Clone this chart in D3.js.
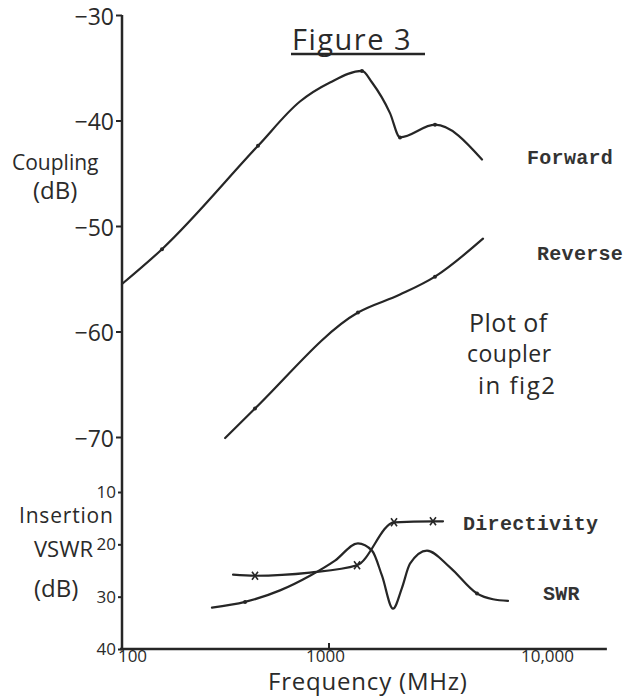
<!DOCTYPE html>
<html>
<head>
<meta charset="utf-8">
<script src="https://cdn.jsdelivr.net/npm/d3@7.9.0/dist/d3.min.js"></script>
<style>
  body { margin: 0; background: #fff; }
  svg { display: block; }
  .hand { font-family: "Open Sans", sans-serif; fill: #2a2a2a; }
  .type { font-family: "Liberation Mono", monospace; font-weight: bold; fill: #333; }
</style>
</head>
<body>
<svg width="634" height="698"></svg>
<script>
// frequency (MHz) / dB pairs
const forwardFreq = [100, 156, 454, 724, 1011, 1443, 1614, 1971, 2203, 3251, 5484];
const forwardDb   = [-55.5, -52.2, -42.4, -38.2, -36.4, -35.3, -36.4, -39.3, -41.6, -40.4, -43.7];
const forwardMarks = [156, 454, 1443, 2203, 3251];

const reverseFreq = [315, 439, 1380, 2203, 3251, 5546];
const reverseDb   = [-70.1, -67.3, -58.2, -56.5, -54.8, -51.2];
const reverseMarks = [439, 1380, 3251];

const directFreq = [344, 439, 809, 1366, 2061, 3179, 3555];
const directDb   = [25.8, 26.0, 25.4, 24.0, 15.8, 15.6, 15.6];
const directMarks = [439, 1366, 2061, 3179];

const swrFreq = [272, 393, 580, 809, 1069, 1380, 1614, 1803, 2038, 2252, 2462, 2974, 3842, 5187, 6199, 7324];
const swrDb   = [32.1, 31.0, 28.8, 26.0, 23.1, 19.8, 21.2, 26.0, 32.3, 28.3, 23.7, 21.2, 24.4, 29.4, 30.5, 30.8];
const swrMarks = [393, 5187];

const couplingTicks = [-30, -40, -50, -60, -70];
const lowerTicks = [10, 20, 30, 40];
const freqTicks = [100, 1000, 10000];
const freqTickLabels = ["100", "1000", "10,000"];

const svg = d3.select("svg");
const ink = "#262626";

const x = d3.scaleLog().domain([100, 10000]).range([122, 536]);
const yTop = d3.scaleLinear().domain([-30, -70]).range([15, 437]);
const yBot = d3.scaleLinear().domain([10, 40]).range([492, 649]);

// axes
const axisTop = d3.axisLeft(yTop).tickValues(couplingTicks).tickSize(6).tickPadding(2)
  .tickFormat(d => "\u2212" + Math.abs(d));
const gTop = svg.append("g").attr("transform", "translate(122,0)").call(axisTop);
gTop.select(".domain").remove();
gTop.selectAll("text").attr("class", "hand").style("font-size", "23px").attr("dy", "0.4em");

const axisBot = d3.axisLeft(yBot).tickValues(lowerTicks).tickSize(4).tickPadding(2);
const gBot = svg.append("g").attr("transform", "translate(122,0)").call(axisBot);
gBot.select(".domain").remove();
gBot.selectAll("text").attr("class", "hand").style("font-size", "17px");

// hand-written labels sit a little off their ticks
const labelShift = [10, -4, 11];
const axisX = d3.axisBottom(x).tickValues(freqTicks).tickSize(0).tickPadding(1)
  .tickFormat((d, i) => freqTickLabels[i]);
const gX = svg.append("g").attr("transform", "translate(0,649)").call(axisX);
gX.select(".domain").remove();
gX.selectAll("text").attr("class", "hand").style("font-size", "17px").attr("dx", (d, i) => labelShift[i]);

svg.selectAll(".tick line").attr("stroke", ink).attr("stroke-width", 2);

// axis lines drawn by hand so they run past the last tick
svg.append("line").attr("x1", 122).attr("x2", 122).attr("y1", yTop(-30)).attr("y2", yBot(40))
  .attr("stroke", ink).attr("stroke-width", 2.5);
svg.append("line").attr("x1", 120).attr("x2", x(22000)).attr("y1", yBot(40)).attr("y2", yBot(40))
  .attr("stroke", ink).attr("stroke-width", 2.5);
svg.append("line").attr("x1", x(1000)).attr("x2", x(1000)).attr("y1", yBot(40) - 6).attr("y2", yBot(40))
  .attr("stroke", ink).attr("stroke-width", 2);

// curves
function drawSeries(freqs, vals, yScale, marks, markType) {
  const pts = freqs.map((f, i) => [x(f), yScale(vals[i])]);
  const line = d3.line().curve(d3.curveMonotoneX);
  svg.append("path").attr("d", line(pts)).attr("fill", "none")
    .attr("stroke", ink).attr("stroke-width", 2.2).attr("stroke-linejoin", "round").attr("stroke-linecap", "round");
  marks.forEach(m => {
    const i = freqs.indexOf(m);
    const px = x(m), py = yScale(vals[i]);
    if (markType === "x") {
      svg.append("path").attr("d", `M${px-3},${py-4}L${px+3},${py+4}M${px+3},${py-4}L${px-3},${py+4}`)
        .attr("stroke", ink).attr("stroke-width", 1.6);
    } else {
      svg.append("circle").attr("cx", px).attr("cy", py).attr("r", 2).attr("fill", ink);
    }
  });
}

drawSeries(forwardFreq, forwardDb, yTop, forwardMarks, "dot");
drawSeries(reverseFreq, reverseDb, yTop, reverseMarks, "dot");
drawSeries(directFreq, directDb, yBot, directMarks, "x");
drawSeries(swrFreq, swrDb, yBot, swrMarks, "dot");

// typed series labels
const typed = [["Forward", 527, 164], ["Reverse", 537, 260], ["Directivity", 463, 530], ["SWR", 543, 600]];
svg.selectAll("text.type").data(typed).join("text").attr("class", "type")
  .attr("x", d => d[1]).attr("y", d => d[2]).style("font-size", "20px").style("letter-spacing", "0.3px").text(d => d[0]);

// handwritten notes
const notes = [
  ["Figure 3", 292, 50, 29, 1.5],
  ["Coupling", 12, 170, 21, 0],
  ["(dB)", 33, 199, 24, 0],
  ["Insertion", 19, 523, 21, 0.8],
  ["VSWR", 34, 557, 22, 0],
  ["(dB)", 34, 597, 24, 0],
  ["Plot of", 469, 332, 25, 0.5],
  ["coupler", 467, 362, 23, 0.5],
  ["in fig2", 478, 394, 24, 1.5],
  ["Frequency  (MHz)", 268, 690, 24, 0.8]
];
svg.selectAll("text.note").data(notes).join("text").attr("class", "hand note")
  .attr("x", d => d[1]).attr("y", d => d[2]).style("font-size", d => d[3] + "px")
  .style("letter-spacing", d => d[4] + "px").text(d => d[0]);

svg.append("line").attr("x1", 291).attr("x2", 425).attr("y1", 54).attr("y2", 54)
  .attr("stroke", ink).attr("stroke-width", 2.5);
</script>
</body>
</html>
